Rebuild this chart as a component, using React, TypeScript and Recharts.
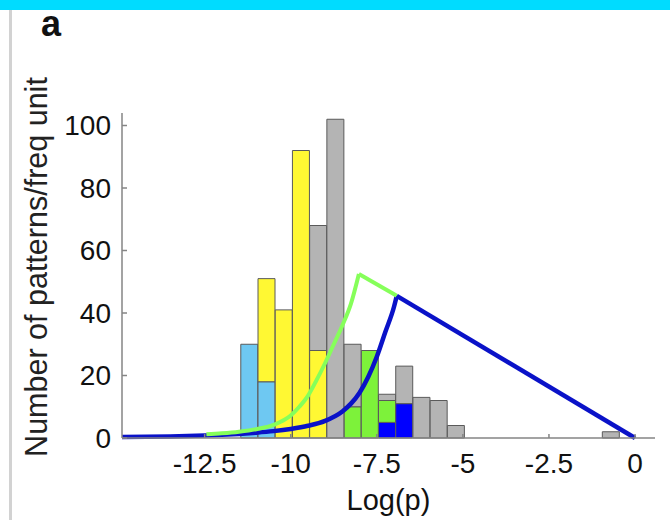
import { ComposedChart, Bar, Line, XAxis, YAxis } from "recharts";

// histogram bins (centre of each bin on log scale)
const binCenters = [-11.2, -10.7, -10.2, -9.7, -9.2, -8.7, -8.2, -7.7, -7.2, -6.7, -6.2, -5.7, -5.2, -0.7];
// stacked segment heights, bottom to top
const blueCounts   = [0, 0, 0, 0, 0, 0, 0, 0, 5, 11, 0, 0, 0, 0];
const cyanCounts   = [30, 18, 0, 0, 0, 0, 0, 0, 0, 0, 0, 0, 0, 0];
const greenCounts  = [0, 0, 0, 0, 0, 0, 10, 28, 7, 0, 0, 0, 0, 0];
const yellowCounts = [0, 33, 41, 92, 28, 0, 0, 0, 0, 0, 0, 0, 0, 0];
const grayCounts   = [0, 0, 0, 0, 40, 102, 20, 0, 2, 12, 13, 12, 4, 2];

// model curves
const greenRiseX = [-12.45, -12, -11.5, -11, -10.5, -10, -9.75, -9.5, -9.25, -9, -8.75, -8.5, -8.25, -8.02];
const greenRiseY = [1.2, 1.5, 2.0, 2.8, 4.2, 7.2, 10, 13.5, 18.5, 24, 30, 36, 43, 52.5];
const greenFallX = [-8.02, -6.92];
const greenFallY = [52.5, 45.5];
const blueRiseX = [-14.9, -13.5, -12.5, -12, -11.5, -11, -10.5, -10, -9.5, -9, -8.5, -8.25, -8, -7.75, -7.5, -7.25, -7, -6.92];
const blueRiseY = [0.3, 0.5, 0.8, 1.0, 1.3, 1.7, 2.2, 2.9, 3.9, 5.5, 8.5, 11, 14.5, 19.5, 26, 34, 42, 45.5];
const blueFallX = [-6.92, 0];
const blueFallY = [45.5, 0];

const xTicks = [-12.5, -10, -7.5, -5, -2.5, 0];
const yTicks = [0, 20, 40, 60, 80, 100];

const bins = binCenters.map((x, i) => ({
  x,
  blue: blueCounts[i],
  cyan: cyanCounts[i],
  green: greenCounts[i],
  yellow: yellowCounts[i],
  gray: grayCounts[i],
}));
const pts = (xs: number[], ys: number[]) => xs.map((x, i) => ({ x, y: ys[i] }));

const FONT = '"Liberation Sans", Arial, sans-serif';
const AXIS = "#858585";
const EDGE = "#5a5a5a";
const DOMAIN: [number, number] = [-14.9, 0.58];

export default function App() {
  return (
    <div style={{ position: "absolute", left: 0, top: 0, width: 670, height: 520, background: "#fff", fontFamily: FONT }}>
      <div style={{ position: "absolute", left: 0, top: 0, width: 670, height: 10, background: "#00dcff" }} />
      <div style={{ position: "absolute", left: 9, top: 10, width: 3, height: 510, background: "#d2d2d2" }} />
      <div style={{ position: "absolute", left: 41, top: 3, fontSize: 36, fontWeight: 700, color: "#111" }}>a</div>
      <div
        style={{
          position: "absolute",
          left: 36 - 250,
          top: 267 - 20,
          width: 500,
          height: 40,
          lineHeight: "40px",
          textAlign: "center",
          transform: "rotate(-90deg)",
          whiteSpace: "nowrap",
          fontSize: 30.5,
          color: "#222",
        }}
      >
        Number of patterns/freq unit
      </div>
      <ComposedChart
        width={670}
        height={520}
        data={bins}
        margin={{ top: 113, right: 15, bottom: 0, left: 0 }}
        style={{ position: "absolute", left: 0, top: 0 }}
      >
        <XAxis
          dataKey="x"
          type="number"
          domain={DOMAIN}
          allowDataOverflow
          ticks={xTicks}
          height={82}
          tickSize={-4}
          tickMargin={19}
          stroke={AXIS}
          strokeWidth={1.5}
          tick={{ fill: "#111", fontSize: 28, fontFamily: FONT }}
          label={{ value: "Log(p)", position: "insideBottom", offset: 10, fill: "#111", fontSize: 29, fontFamily: FONT }}
        />
        <XAxis xAxisId="curve" dataKey="x" type="number" domain={DOMAIN} allowDataOverflow hide />
        <YAxis
          type="number"
          domain={[0, 104]}
          ticks={yTicks}
          width={122}
          tickSize={-5}
          tickMargin={16}
          stroke={AXIS}
          strokeWidth={1.5}
          tick={{ fill: "#111", fontSize: 28, fontFamily: FONT }}
        />
        <Bar dataKey="blue" stackId="h" barSize={17} fill="#0000ff" stroke={EDGE} strokeWidth={1} isAnimationActive={false} />
        <Bar dataKey="cyan" stackId="h" barSize={17} fill="#6ec8f2" stroke={EDGE} strokeWidth={1} isAnimationActive={false} />
        <Bar dataKey="green" stackId="h" barSize={17} fill="#7df23a" stroke={EDGE} strokeWidth={1} isAnimationActive={false} />
        <Bar dataKey="yellow" stackId="h" barSize={17} fill="#fff833" stroke={EDGE} strokeWidth={1} isAnimationActive={false} />
        <Bar dataKey="gray" stackId="h" barSize={17} fill="#b4b4b4" stroke={EDGE} strokeWidth={1} isAnimationActive={false} />
        <Line xAxisId="curve" data={pts(blueRiseX, blueRiseY)} dataKey="y" type="monotone" stroke="#0a12c8" strokeWidth={4.5} dot={false} isAnimationActive={false} />
        <Line xAxisId="curve" data={pts(greenRiseX, greenRiseY)} dataKey="y" type="monotone" stroke="#86ff5a" strokeWidth={4} dot={false} isAnimationActive={false} />
        <Line xAxisId="curve" data={pts(greenFallX, greenFallY)} dataKey="y" type="linear" stroke="#86ff5a" strokeWidth={4} dot={false} isAnimationActive={false} />
        <Line xAxisId="curve" data={pts(blueFallX, blueFallY)} dataKey="y" type="linear" stroke="#0a12c8" strokeWidth={4.5} dot={false} isAnimationActive={false} />
      </ComposedChart>
    </div>
  );
}
